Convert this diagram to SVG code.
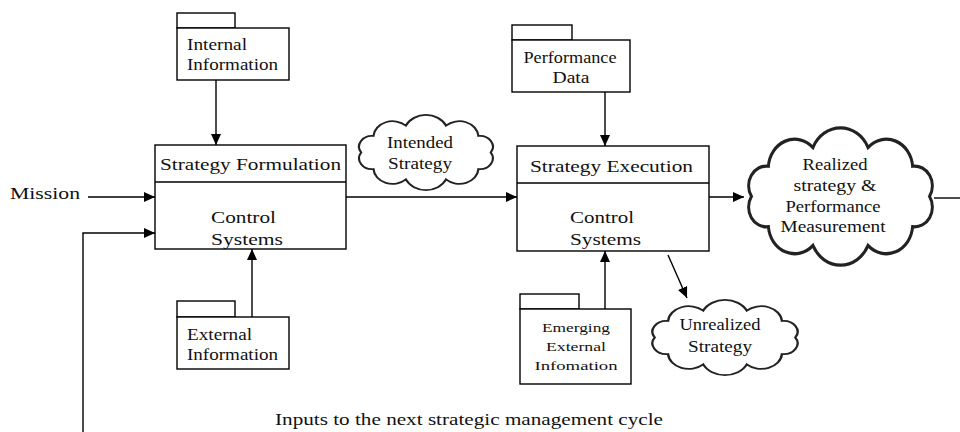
<svg xmlns="http://www.w3.org/2000/svg" width="960" height="432" viewBox="0 0 960 432">
<defs>
<marker id="ah" markerUnits="userSpaceOnUse" markerWidth="12" markerHeight="10" refX="11" refY="5" orient="auto">
<path d="M0,0 L11,5 L0,10 Z" fill="#000"/>
</marker>
<path id="cloudShape" d="M92,30 A8.4,8.4 0 0 1 84,42.9 A12.4,12.4 0 0 1 63,50.9 A14.3,14.3 0 0 1 37,50.9 A12.4,12.4 0 0 1 16,42.9 A8.4,8.4 0 0 1 8,30 A8.4,8.4 0 0 1 16,17.1 A12.4,12.4 0 0 1 37,9.1 A14.3,14.3 0 0 1 63,9.1 A12.4,12.4 0 0 1 84,17.1 A8.4,8.4 0 0 1 92,30 Z"/>
</defs>
<style>
.box{fill:#fff;stroke:#000;stroke-width:1.4}
.cloud{fill:#fff;stroke:#222;stroke-width:1.4;vector-effect:non-scaling-stroke}
.ln{fill:none;stroke:#000;stroke-width:1.4}
.arr{fill:none;stroke:#000;stroke-width:1.4;marker-end:url(#ah)}
text{font-family:'Liberation Serif','DejaVu Serif',serif;font-size:16px;fill:#111}
.c{text-anchor:middle}
.s{font-size:13px}
</style>
<rect width="960" height="432" fill="#fff"/>

<g id="connectors">
<line class="arr" x1="216" y1="80" x2="216" y2="145"/>
<line class="arr" x1="88" y1="197" x2="155" y2="197"/>
<polyline class="arr" points="83,432 83,233 155,233"/>
<line class="arr" x1="252" y1="317" x2="252" y2="249"/>
<line class="arr" x1="346" y1="197" x2="517" y2="197"/>
<line class="arr" x1="605" y1="92" x2="605" y2="146"/>
<line class="arr" x1="709" y1="197" x2="744" y2="197"/>
<line class="arr" x1="605" y1="309" x2="605" y2="251"/>
<line class="arr" x1="668" y1="255" x2="687" y2="298"/>
<line class="ln" x1="934" y1="198" x2="960" y2="198"/>
</g>

<g id="internal-information" font-family="Liberation Serif, serif">
<rect class="box" x="177" y="13" width="58" height="15"/>
<rect class="box" x="177" y="28" width="112" height="52"/>
<text x="187" y="50" textLength="60" lengthAdjust="spacingAndGlyphs">Internal</text>
<text x="187" y="70" textLength="91" lengthAdjust="spacingAndGlyphs">Information</text>
</g>

<g id="mission">
<text x="10" y="199" textLength="70" lengthAdjust="spacingAndGlyphs">Mission</text>
</g>

<g id="strategy-formulation">
<rect class="box" x="155" y="145" width="191" height="104"/>
<line class="ln" x1="155" y1="182" x2="346" y2="182"/>
<text x="160" y="170" textLength="181" lengthAdjust="spacingAndGlyphs">Strategy Formulation</text>
<text x="211" y="223" textLength="65" lengthAdjust="spacingAndGlyphs">Control</text>
<text x="211" y="245" textLength="72" lengthAdjust="spacingAndGlyphs">Systems</text>
</g>

<g id="external-information">
<rect class="box" x="177" y="301" width="58" height="16"/>
<rect class="box" x="177" y="317" width="112" height="52"/>
<text x="187" y="340" textLength="65" lengthAdjust="spacingAndGlyphs">External</text>
<text x="187" y="360" textLength="91" lengthAdjust="spacingAndGlyphs">Information</text>
</g>

<g id="intended-strategy">
<use href="#cloudShape" class="cloud" transform="translate(348.8,114) scale(1.543,1.284)"/>
<text x="420" y="148" class="c" textLength="66" lengthAdjust="spacingAndGlyphs">Intended</text>
<text x="420" y="169" class="c" textLength="64" lengthAdjust="spacingAndGlyphs">Strategy</text>
</g>

<g id="performance-data">
<rect class="box" x="512" y="25" width="60" height="15"/>
<rect class="box" x="512" y="40" width="118" height="52"/>
<text x="570" y="63" class="c" textLength="93" lengthAdjust="spacingAndGlyphs">Performance</text>
<text x="571" y="83" class="c" textLength="37" lengthAdjust="spacingAndGlyphs">Data</text>
</g>

<g id="strategy-execution">
<rect class="box" x="517" y="146" width="192" height="105"/>
<line class="ln" x1="517" y1="183" x2="709" y2="183"/>
<text x="530" y="172" textLength="163" lengthAdjust="spacingAndGlyphs">Strategy Execution</text>
<text x="570" y="223" textLength="64" lengthAdjust="spacingAndGlyphs">Control</text>
<text x="570" y="245" textLength="71" lengthAdjust="spacingAndGlyphs">Systems</text>
</g>

<g id="realized-strategy">
<use href="#cloudShape" class="cloud" transform="translate(734.5,126.1) scale(2.12,2.346)"/>
<text x="835" y="170" class="c" textLength="65" lengthAdjust="spacingAndGlyphs">Realized</text>
<text x="835" y="191" class="c" textLength="83" lengthAdjust="spacingAndGlyphs">strategy &amp;</text>
<text x="833" y="212" class="c" textLength="95" lengthAdjust="spacingAndGlyphs">Performance</text>
<text x="833" y="232" class="c" textLength="105" lengthAdjust="spacingAndGlyphs">Measurement</text>
</g>

<g id="emerging-external-information">
<rect class="box" x="520" y="294" width="59" height="15"/>
<rect class="box" x="520" y="309" width="111" height="75"/>
<text x="576" y="332" class="c s" textLength="68" lengthAdjust="spacingAndGlyphs">Emerging</text>
<text x="576" y="351" class="c s" textLength="60" lengthAdjust="spacingAndGlyphs">External</text>
<text x="576" y="370" class="c s" textLength="83" lengthAdjust="spacingAndGlyphs">Infomation</text>
</g>

<g id="unrealized-strategy">
<use href="#cloudShape" class="cloud" transform="translate(641.3,299) scale(1.674,1.284)"/>
<text x="720" y="330" class="c" textLength="81" lengthAdjust="spacingAndGlyphs">Unrealized</text>
<text x="720" y="352" class="c" textLength="64" lengthAdjust="spacingAndGlyphs">Strategy</text>
</g>

<g id="cycle-label">
<text x="275" y="425" textLength="388" lengthAdjust="spacingAndGlyphs">Inputs to the next strategic management cycle</text>
</g>
</svg>
